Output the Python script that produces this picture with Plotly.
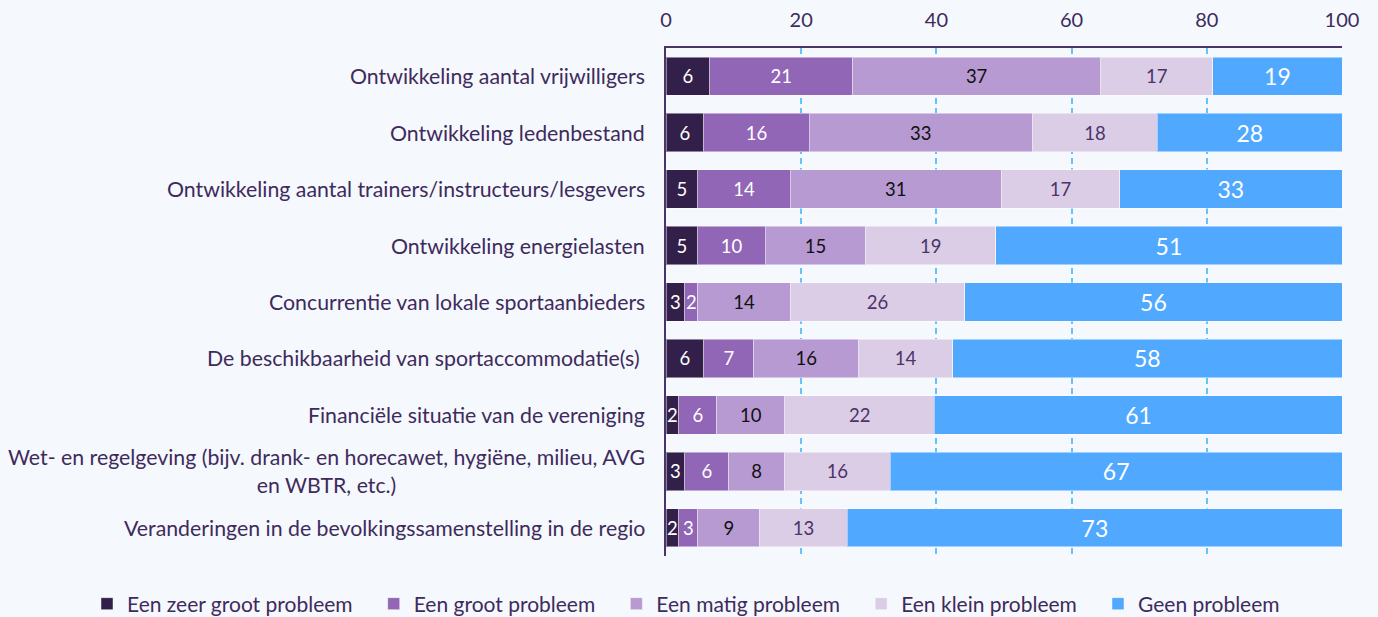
import plotly.graph_objects as go

categories = [
    "Ontwikkeling aantal vrijwilligers",
    "Ontwikkeling ledenbestand",
    "Ontwikkeling aantal trainers/instructeurs/lesgevers",
    "Ontwikkeling energielasten",
    "Concurrentie van lokale sportaanbieders",
    "De beschikbaarheid van sportaccommodatie(s) ",
    "Financiële situatie van de vereniging",
    "Wet- en regelgeving (bijv. drank- en horecawet, hygiëne, milieu, AVG<br>en WBTR, etc.)",
    "Veranderingen in de bevolkingssamenstelling in de regio",
]

series_names = ["Een zeer groot probleem", "Een groot probleem", "Een matig probleem",
                "Een klein probleem", "Geen probleem"]

# estimated shares (%)
zeer_groot = [6.5, 5.6, 4.7, 4.7, 2.8, 5.6, 1.9, 2.8, 1.9]
groot = [21.1, 15.6, 13.7, 10.0, 1.9, 7.4, 5.6, 6.5, 2.8]
matig = [36.7, 33.0, 31.2, 14.8, 13.7, 15.5, 10.1, 8.2, 9.2]
klein = [16.6, 18.5, 17.5, 19.3, 25.8, 13.9, 22.1, 15.7, 12.9]
geen = [19.1, 27.3, 32.9, 51.2, 55.8, 57.6, 60.4, 66.8, 73.3]

# printed labels
lbl_zeer_groot = ["6", "6", "5", "5", "3", "6", "2", "3", "2"]
lbl_groot = ["21", "16", "14", "10", "2", "7", "6", "6", "3"]
lbl_matig = ["37", "33", "31", "15", "14", "16", "10", "8", "9"]
lbl_klein = ["17", "18", "17", "19", "26", "14", "22", "16", "13"]
lbl_geen = ["19", "28", "33", "51", "56", "58", "61", "67", "73"]

x_ticks = [0, 20, 40, 60, 80, 100]

colors = ["#33204A", "#9166B6", "#B79AD1", "#DCCDE6", "#50A9FF"]
text_colors = ["#FFFFFF", "#FFFFFF", "#111111", "#4A3468", "#FFFFFF"]
text_sizes = [18.5, 18.5, 18.5, 18.5, 23]

TXT = "#3E2B5C"
BG = "#F5F8FD"
FONT = "Lato"
PAD = "\u00a0\u00a0\u00a0"

values = [zeer_groot, groot, matig, klein, geen]
labels = [lbl_zeer_groot, lbl_groot, lbl_matig, lbl_klein, lbl_geen]

fig = go.Figure()
for i, (name, vals, lbls, col, tcol, tsz) in enumerate(
        zip(series_names, values, labels, colors, text_colors, text_sizes)):
    fig.add_trace(go.Bar(
        name=name + (PAD if i < len(series_names) - 1 else ""),
        y=categories, x=vals, orientation="h",
        marker=dict(color=col, line=dict(color="rgba(255,255,255,0.45)", width=1)),
        text=lbls, texttemplate="%{text}", textposition="inside",
        insidetextanchor="middle", textangle=0, constraintext="none",
        textfont=dict(color=tcol, size=tsz, family=FONT),
        hoverinfo="skip",
    ))

for cat in categories:
    fig.add_annotation(
        x=0, xref="paper", y=cat, yref="y", xanchor="right", xshift=-19,
        text=cat, showarrow=False, align="center",
        font=dict(family=FONT, size=21.3, color=TXT),
    )

fig.update_layout(
    barmode="stack", bargap=0.32,
    width=1378, height=617,
    margin=dict(l=666, r=36, t=48, b=61, autoexpand=False),
    paper_bgcolor=BG, plot_bgcolor=BG,
    font=dict(family=FONT, color=TXT, size=21),
    showlegend=True,
    legend=dict(orientation="h", traceorder="normal",
                xref="paper", yref="paper",
                x=-0.8565, xanchor="left", y=-0.0945, yanchor="middle",
                font=dict(family=FONT, size=21, color=TXT),
                itemclick=False, itemdoubleclick=False, bgcolor="rgba(0,0,0,0)"),
    xaxis=dict(side="top", range=[0, 100], tickvals=x_ticks, ticks="",
               ticklabelstandoff=11, automargin=False,
               tickfont=dict(family=FONT, size=20, color=TXT),
               showgrid=True, gridcolor="#63C3FA", griddash="6px,4px", gridwidth=1.5,
               showline=True, linecolor="#4A3468", linewidth=2, zeroline=False,
               fixedrange=True),
    yaxis=dict(autorange="reversed", showticklabels=False, ticks="", automargin=False,
               showline=True, linecolor="#4A3468", linewidth=2, showgrid=False,
               fixedrange=True),
)

fig.write_html("out.html", config={"displayModeBar": False},
               post_script="document.body.style.margin='0';")
